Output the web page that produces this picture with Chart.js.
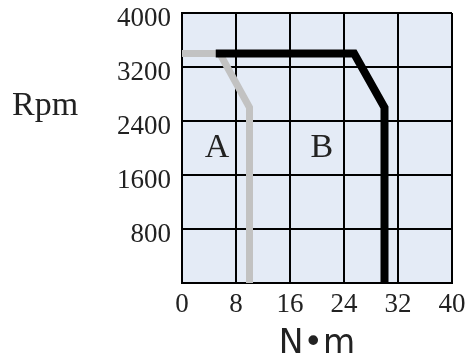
<!DOCTYPE html>
<html>
<head>
<meta charset="utf-8">
<script src="https://cdn.jsdelivr.net/npm/chart.js@4.4.0/dist/chart.umd.min.js"></script>
<style>
  html, body { margin: 0; padding: 0; background: #fff; }
  #wrap { position: relative; width: 470px; height: 364px; }
</style>
</head>
<body>
<div id="wrap"><canvas id="chart"></canvas></div>
<script>
// curve A (light grey) and curve B (black): torque in N·m, speed in rpm
const torqueA = [0, 5.6, 10, 10];
const rpmA = [3400, 3400, 2600, 0];
const torqueB = [5, 25.5, 30, 30];
const rpmB = [3400, 3400, 2600, 0];

const xTicks = [0, 8, 16, 24, 32, 40];
const yTicks = [800, 1600, 2400, 3200, 4000];

// region labels inside the plot
const regionNames = ['A', 'B'];
const regionTorque = [5.2, 20.7];
const regionRpm = [2000, 2000];

const toPoints = (xs, ys) => xs.map((x, i) => ({ x: x, y: ys[i] }));

const serif = '"Liberation Serif", "Times New Roman", serif';

const extras = {
  id: 'extras',
  beforeDraw(chart) {
    const { ctx, chartArea: a } = chart;
    ctx.save();
    ctx.fillStyle = '#E4EBF6';
    ctx.fillRect(a.left, a.top, a.right - a.left, a.bottom - a.top);
    ctx.restore();
  },
  afterDraw(chart) {
    const { ctx, scales } = chart;
    ctx.save();
    ctx.fillStyle = '#222';
    ctx.font = '34px ' + serif;
    ctx.textBaseline = 'alphabetic';
    ctx.textAlign = 'left';
    ctx.fillText('Rpm', 12, 115);
    ctx.textAlign = 'center';
    ctx.textBaseline = 'middle';
    regionNames.forEach((n, i) => {
      ctx.fillText(n, scales.x.getPixelForValue(regionTorque[i]), scales.y.getPixelForValue(regionRpm[i]));
    });
    ctx.restore();
  }
};

// keep the plot box where it is in the original, labels may hang outside it
const noPad = (s) => { s.paddingTop = 0; s.paddingBottom = 0; s.paddingLeft = 0; s.paddingRight = 0; };

new Chart(document.getElementById('chart'), {
  type: 'scatter',
  data: {
    datasets: [
      {
        label: 'B',
        data: toPoints(torqueB, rpmB),
        showLine: true,
        borderColor: '#000',
        borderWidth: 8,
        borderJoinStyle: 'miter',
        borderCapStyle: 'butt',
        pointRadius: 0,
        tension: 0
      },
      {
        label: 'A',
        data: toPoints(torqueA, rpmA),
        showLine: true,
        borderColor: '#C2C2C2',
        borderWidth: 7,
        borderJoinStyle: 'miter',
        borderCapStyle: 'butt',
        pointRadius: 0,
        tension: 0
      }
    ]
  },
  options: {
    responsive: true,
    maintainAspectRatio: false,
    animation: false,
    layout: { padding: { left: 0, right: 18, top: 13, bottom: 0 } },
    plugins: {
      legend: { display: false },
      tooltip: { enabled: false }
    },
    scales: {
      x: {
        type: 'linear',
        min: 0,
        max: 40,
        afterBuildTicks: (s) => { s.ticks = xTicks.map(v => ({ value: v })); },
        afterFit: (s) => { s.height = 81; noPad(s); },
        ticks: {
          color: '#222',
          padding: 6,
          font: { family: serif, size: 27 }
        },
        grid: { color: '#000', lineWidth: 2, drawTicks: false },
        border: { display: true, color: '#000', width: 2 },
        title: {
          display: true,
          text: 'N•m',
          color: '#222',
          padding: { top: 0, bottom: 0 },
          font: { family: '"DejaVu Sans", sans-serif', size: 33 }
        }
      },
      y: {
        type: 'linear',
        min: 0,
        max: 4000,
        afterBuildTicks: (s) => { s.ticks = [0].concat(yTicks).map(v => ({ value: v })); },
        afterFit: (s) => { s.width = 182; noPad(s); },
        ticks: {
          color: '#222',
          padding: 11,
          labelOffset: 6,
          font: { family: serif, size: 27 },
          callback: (v) => (v === 0 ? '' : v)
        },
        grid: { color: '#000', lineWidth: 2, drawTicks: false },
        border: { display: true, color: '#000', width: 2 }
      }
    }
  },
  plugins: [extras]
});
</script>
</body>
</html>
